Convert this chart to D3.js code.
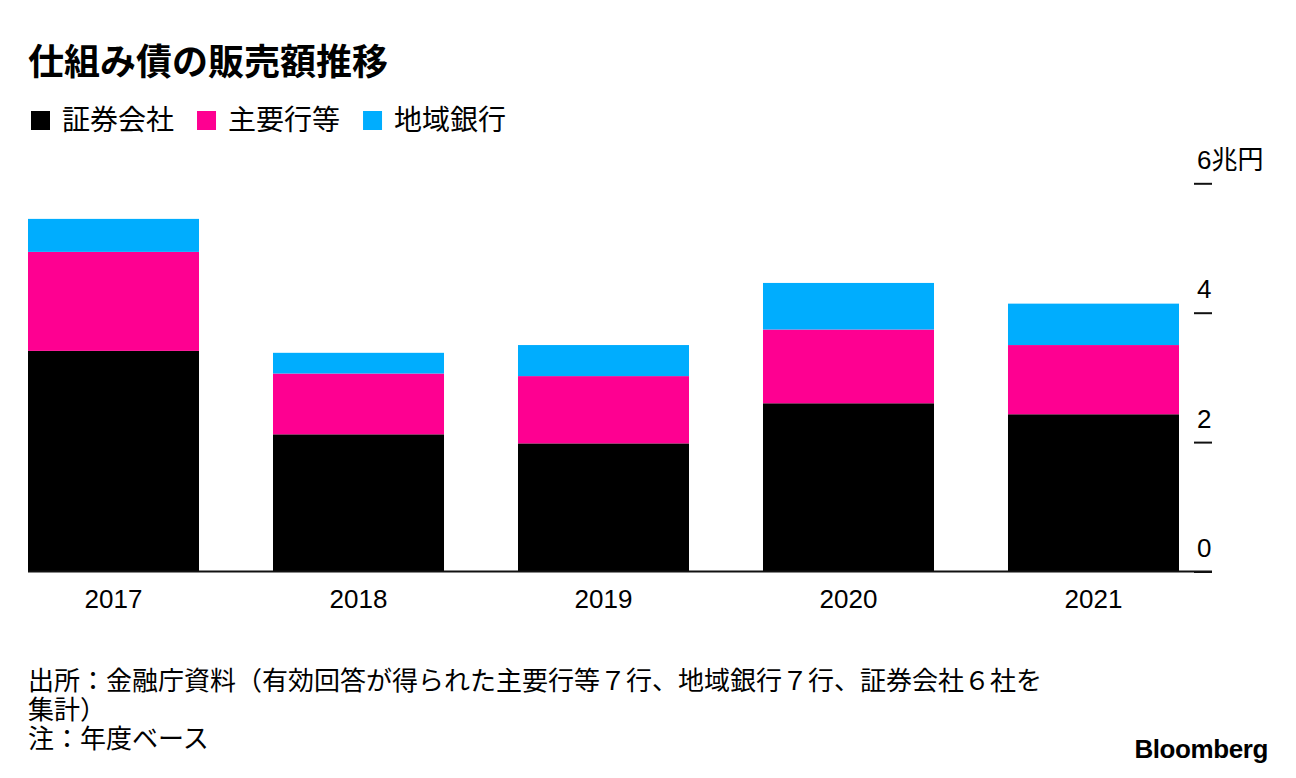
<!DOCTYPE html>
<html>
<head>
<meta charset="utf-8">
<script src="https://cdn.jsdelivr.net/npm/d3@7"></script>
<style>
  body { margin: 0; background: #fff; }
  text { font-family: "Liberation Sans", "Noto Sans CJK JP", sans-serif; fill: #000; }
</style>
</head>
<body>
<div id="chart"></div>
<script>
'use strict';

var years   = ['2017', '2018', '2019', '2020', '2021'];
var series  = ['証券会社', '主要行等', '地域銀行'];
var colors  = ['#000000', '#fe0091', '#00adfe'];
var brokers = [3.41, 2.12, 1.98, 2.60, 2.43];
var majors  = [1.53, 0.94, 1.04, 1.14, 1.07];
var regions = [0.51, 0.32, 0.48, 0.72, 0.64];
var yTicks  = [0, 2, 4, 6];

var title = '仕組み債の販売額推移';
var notes = [
  '出所：金融庁資料（有効回答が得られた主要行等７行、地域銀行７行、証券会社６社を',
  '集計）',
  '注：年度ベース'
];

var W = 1296, H = 778;

var rows = years.map(function (y, i) {
  return { year: y, '証券会社': brokers[i], '主要行等': majors[i], '地域銀行': regions[i] };
});

var stacked = d3.stack().keys(series)(rows);

var x = d3.scaleBand()
  .domain(years)
  .range([28, 1179])
  .paddingInner(0.302)
  .paddingOuter(0);

var y = d3.scaleLinear()
  .domain([0, 6])
  .range([571.5, 183.3]);

var color = d3.scaleOrdinal().domain(series).range(colors);

var svg = d3.select('#chart')
  .append('svg')
  .attr('width', W)
  .attr('height', H);

// title
svg.append('text')
  .attr('x', 28)
  .attr('y', 75)
  .style('font-family', '"Noto Sans CJK JP", sans-serif')
  .style('font-size', '36px')
  .style('font-weight', 'bold')
  .text(title);

// legend
var lx = 31;
series.forEach(function (s, i) {
  svg.append('rect')
    .attr('x', lx)
    .attr('y', 111)
    .attr('width', 19)
    .attr('height', 19)
    .style('fill', color(s));
  var t = svg.append('text')
    .attr('x', lx + 31)
    .attr('y', 130)
    .style('font-family', '"Noto Sans CJK JP", sans-serif')
    .style('font-size', '28px')
    .text(s);
  lx = lx + 31 + t.node().getComputedTextLength() + 23;
});

// bars
svg.append('g')
  .selectAll('g')
  .data(stacked)
  .join('g')
    .style('fill', function (d) { return color(d.key); })
  .selectAll('rect')
  .data(function (d) { return d; })
  .join('rect')
    .attr('x', function (d) { return x(d.data.year); })
    .attr('y', function (d) { return y(d[1]); })
    .attr('width', x.bandwidth())
    .attr('height', function (d) { return y(d[0]) - y(d[1]); });

// y axis on the right
var yAxis = d3.axisRight(y)
  .tickValues(yTicks)
  .tickSize(18)
  .tickFormat(function (d) { return d === 6 ? d + '兆円' : d; });

var ya = svg.append('g')
  .attr('transform', 'translate(1194,0)')
  .call(yAxis);

ya.select('.domain').remove();
ya.selectAll('.tick line')
  .style('stroke', '#111')
  .style('stroke-width', '2px');
ya.selectAll('.tick text')
  .attr('x', 3)
  .attr('y', -15)
  .attr('dy', 0)
  .style('text-anchor', 'start')
  .style('font-size', '26px')
  .style('fill', '#000');

// baseline
svg.append('line')
  .attr('x1', 28)
  .attr('x2', 1212)
  .attr('y1', y(0))
  .attr('y2', y(0))
  .style('stroke', '#111')
  .style('stroke-width', '2px');

// x axis labels
var xAxis = d3.axisBottom(x).tickSize(0).tickPadding(0);
var xa = svg.append('g')
  .attr('transform', 'translate(0,' + y(0) + ')')
  .call(xAxis);
xa.select('.domain').remove();
xa.selectAll('.tick text')
  .attr('y', 36)
  .attr('dy', 0)
  .style('font-size', '26px')
  .style('fill', '#000');

// notes
notes.forEach(function (n, i) {
  svg.append('text')
    .attr('x', 28)
    .attr('y', 690 + i * 29)
    .style('font-family', '"Noto Sans CJK JP", sans-serif')
    .style('font-size', '26px')
    .text(n);
});

// logo
svg.append('text')
  .attr('x', 1268)
  .attr('y', 758)
  .style('text-anchor', 'end')
  .style('font-size', '26px')
  .style('font-weight', 'bold')
  .style('letter-spacing', '-0.4px')
  .text('Bloomberg');
</script>
</body>
</html>
